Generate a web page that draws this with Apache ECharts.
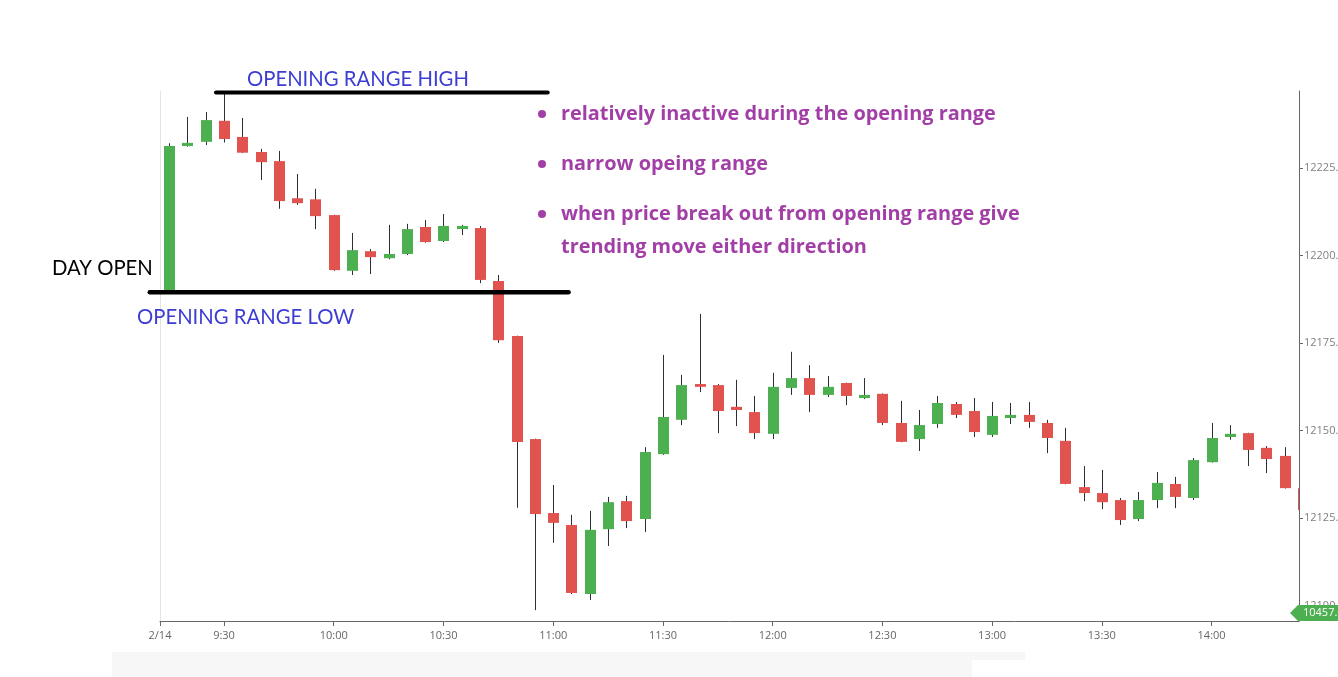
<!DOCTYPE html>
<html>
<head>
<meta charset="utf-8">
<script src="https://cdn.jsdelivr.net/npm/echarts@6/dist/echarts.min.js"></script>
<style>
html,body{margin:0;padding:0;background:#ffffff;}
#chart{width:1338px;height:677px;}
</style>
</head>
<body>
<div id="chart"></div>
<script>
// ---- data (5-minute candles, 2/14) ----
const times = ['9:15','9:20','9:25','9:30','9:35','9:40','9:45','9:50','9:55',
  '10:00','10:05','10:10','10:15','10:20','10:25','10:30','10:35','10:40','10:45','10:50','10:55',
  '11:00','11:05','11:10','11:15','11:20','11:25','11:30','11:35','11:40','11:45','11:50','11:55',
  '12:00','12:05','12:10','12:15','12:20','12:25','12:30','12:35','12:40','12:45','12:50','12:55',
  '13:00','13:05','13:10','13:15','13:20','13:25','13:30','13:35','13:40','13:45','13:50','13:55',
  '14:00','14:05','14:10','14:15','14:20','14:25'];
const opens = [12190.0,12231.2,12232.4,12238.4,12233.8,12229.5,12226.9,12216.3,12216.0,
  12211.5,12195.6,12201.2,12199.2,12200.4,12208.1,12204.1,12207.5,12207.8,12192.7,12177.0,12147.6,
  12126.5,12123.1,12103.4,12121.9,12129.9,12124.8,12143.3,12153.1,12163.3,12163.0,12156.8,12155.3,
  12149.1,12162.2,12165.0,12160.2,12163.6,12159.3,12160.5,12152.2,12147.6,12151.9,12157.6,12155.6,
  12148.8,12153.6,12154.5,12152.2,12147.1,12133.9,12132.2,12130.2,12124.8,12130.2,12134.8,12130.8,
  12141.0,12148.2,12149.3,12145.1,12142.8,12133.6];
const closes = [12231.2,12232.1,12238.6,12233.2,12229.3,12226.6,12215.5,12214.9,12211.2,
  12195.8,12201.5,12199.5,12200.4,12207.5,12203.8,12208.4,12208.4,12193.0,12175.8,12146.8,12126.2,
  12123.7,12103.7,12121.7,12129.6,12124.2,12143.9,12153.9,12163.0,12162.5,12155.6,12155.9,12149.3,
  12162.5,12165.0,12160.2,12162.5,12159.9,12160.2,12152.2,12146.8,12151.6,12157.9,12154.5,12149.6,
  12154.2,12154.5,12152.5,12147.9,12134.8,12132.2,12129.6,12124.5,12130.2,12135.1,12131.1,12141.6,
  12147.9,12149.1,12144.5,12141.9,12133.6,12127.4];
const lows = [12189.5,12231.0,12231.5,12232.2,12229.2,12221.5,12213.3,12214.4,12207.5,
  12195.6,12194.4,12194.7,12198.9,12200.1,12203.6,12203.8,12205.8,12192.1,12175.0,12128.0,12098.8,
  12118.0,12103.4,12101.7,12117.1,12122.2,12121.1,12143.1,12151.6,12161.0,12149.3,12151.3,12147.6,
  12147.6,12160.2,12155.3,12159.6,12157.3,12159.0,12151.6,12146.7,12144.2,12150.8,12153.6,12148.2,
  12148.2,12151.9,12150.8,12143.6,12134.7,12129.9,12127.6,12123.1,12124.2,12127.9,12127.9,12130.2,
  12140.9,12147.4,12139.9,12137.9,12133.5,12127.3];
const highs = [12232.0,12239.5,12240.9,12246.3,12239.2,12230.4,12229.8,12223.2,12219.0,
  12211.6,12206.4,12201.8,12208.7,12209.0,12210.1,12211.8,12208.7,12208.4,12194.4,12177.1,12147.7,
  12134.5,12126.0,12127.1,12131.1,12131.4,12145.3,12171.6,12165.9,12183.3,12163.3,12164.5,12159.9,
  12166.5,12172.5,12168.7,12165.6,12163.7,12165.0,12160.6,12158.5,12155.9,12159.9,12158.2,12159.3,
  12158.2,12157.9,12158.2,12153.1,12150.8,12139.9,12138.8,12130.8,12132.5,12138.2,12136.8,12142.2,
  12152.2,12151.6,12149.4,12145.6,12145.3,12133.7];

const dateLabel = '2/14';
const xTickLabels = ['9:30','10:00','10:30','11:00','11:30','12:00','12:30','13:00','13:30','14:00'];
const yTickValues = [12100,12125,12150,12175,12200,12225];
const lastPriceTag = '10457.6';

// annotations
const openingRangeHigh = 12246.5;
const openingRangeLow = 12189.5;
const titleHigh = 'OPENING RANGE HIGH';
const titleLow = 'OPENING RANGE LOW';
const titleOpen = 'DAY OPEN';
const notes = [
  'relatively inactive during the opening range',
  'narrow opeing range',
  'when price break out from opening range give',
  'trending move either direction'
];

// ---- helpers ----
function toMin(t){ const p = t.split(':'); return (+p[0])*60 + (+p[1]); }
function fmtMin(m){ const h = Math.floor(m/60); const mm = Math.round(m - h*60); return h + ':' + (mm<10?'0':'') + mm; }

const xMin = toMin('9:15') - 2.5;   // half a bar before first candle
const xMax = 863.9;
const yMin = 12095.7, yMax = 12246.9;

const candleData = times.map((t,i)=>[toMin(t), opens[i], closes[i], lows[i], highs[i]]);
const xTickValues = [xMin].concat(xTickLabels.map(toMin));

const UP = '#4CAF50', DOWN = '#E0534F', WICK = '#2B3034';
const BODY_W = 11;

function renderCandle(params, api){
  const x = api.value(0), o = api.value(1), c = api.value(2), l = api.value(3), h = api.value(4);
  const pO = api.coord([x, o]), pC = api.coord([x, c]), pL = api.coord([x, l]), pH = api.coord([x, h]);
  const cs = params.coordSys;
  const cx = Math.round(pO[0]);
  const children = [];
  if (cx + 0.5 <= cs.x + cs.width && cx >= cs.x) {
    children.push({type:'line', shape:{x1:cx+0.5, y1:pH[1], x2:cx+0.5, y2:pL[1]},
      style:{stroke:WICK, lineWidth:1}});
  }
  const top = Math.min(pO[1], pC[1]);
  const hgt = Math.max(Math.abs(pO[1]-pC[1]), 1.5);
  const rect = echarts.graphic.clipRectByRect(
    {x: cx + 0.5 - BODY_W/2, y: top, width: BODY_W, height: hgt},
    {x: cs.x, y: cs.y, width: cs.width, height: cs.height});
  if (rect) {
    children.push({type:'rect', shape:rect, style:{fill: c >= o ? UP : DOWN}});
  }
  return {type:'group', children:children};
}

const chart = echarts.init(document.getElementById('chart'), null, {renderer:'canvas'});
chart.setOption({
  animation:false,
  backgroundColor:'#ffffff',
  grid:{left:160, right:39, top:91, bottom:56, containLabel:false, outerBoundsMode:'none'},
  xAxis:{
    type:'value', min:xMin, max:xMax,
    axisLine:{show:true, lineStyle:{color:'#666', width:1}},
    axisTick:{show:true, customValues:xTickValues, length:5, lineStyle:{color:'#666'}},
    axisLabel:{show:true, customValues:xTickValues, color:'#666', fontSize:11, fontFamily:'Open Sans', margin:9,
      formatter:function(v){ return Math.abs(v - xMin) < 0.01 ? dateLabel : fmtMin(v); }},
    splitLine:{show:false}
  },
  yAxis:[{
    type:'value', position:'right', min:yMin, max:yMax, scale:true,
    axisLine:{show:true, lineStyle:{color:'#666', width:1}},
    axisTick:{show:true, customValues:yTickValues, length:4, lineStyle:{color:'#666'}},
    axisLabel:{show:true, customValues:yTickValues, color:'#808080', fontSize:11, fontFamily:'Open Sans', margin:5,
      formatter:function(v){ return v.toFixed(1); }},
    splitLine:{show:false}
  },{
    type:'value', position:'left', min:yMin, max:yMax, scale:true,
    axisLine:{show:true, lineStyle:{color:'#e4e4e4', width:1}},
    axisTick:{show:false}, axisLabel:{show:false}, splitLine:{show:false}
  }],
  series:[{
    type:'custom', name:'candles', data:candleData,
    encode:{x:0, y:[1,2,3,4]},
    renderItem:renderCandle,
    clip:true
  }]
});

// ---- annotations (positions from the chart's own scales) ----
function px(m, v){ return chart.convertToPixel({gridIndex:0}, [m, v]); }
const hA = px(567.8, openingRangeHigh), hB = px(658.5, openingRangeHigh);
const lA = px(549.7, openingRangeLow), lB = px(664.2, openingRangeLow);
const BLUE = '#3D3DD3', PURPLE = '#A23FA7';
const noteFont = 'bold 19.9px "Open Sans"';
const labelFont = '20.3px Lato';
function txt(x, y, s, fill, font){
  return {type:'text', x:x, y:y, style:{text:s, fill:fill, font:font, verticalAlign:'middle', align:'left'}, z:100};
}
const graphics = [
  {type:'rect', shape:{x:112, y:652, width:860, height:25}, style:{fill:'#f7f7f7'}, silent:true},
  {type:'rect', shape:{x:972, y:652, width:53, height:8}, style:{fill:'#f7f7f7'}, silent:true},
  {type:'line', shape:{x1:hA[0], y1:hA[1], x2:hB[0], y2:hB[1]}, style:{stroke:'#000', lineWidth:4, lineCap:'round'}, z:100},
  {type:'line', shape:{x1:lA[0], y1:lA[1], x2:lB[0], y2:lB[1]}, style:{stroke:'#000', lineWidth:4.5, lineCap:'round'}, z:100},
  txt(247, 79, titleHigh, BLUE, labelFont),
  txt(137, 317, titleLow, BLUE, labelFont),
  txt(52, 268, titleOpen, '#000', labelFont),
  {type:'circle', shape:{cx:542, cy:114, r:4}, style:{fill:PURPLE}, z:100},
  {type:'circle', shape:{cx:542, cy:164, r:4}, style:{fill:PURPLE}, z:100},
  {type:'circle', shape:{cx:542, cy:214, r:4}, style:{fill:PURPLE}, z:100},
  txt(561, 114, notes[0], PURPLE, noteFont),
  txt(561, 164, notes[1], PURPLE, noteFont),
  txt(561, 214, notes[2], PURPLE, noteFont),
  txt(561, 247, notes[3], PURPLE, noteFont),
  {type:'polygon', shape:{points:[[1290,613],[1298,605],[1338,605],[1338,621],[1298,621]]}, style:{fill:UP}, z:100},
  txt(1303, 613, lastPriceTag, '#fff', '11px "Open Sans"')
];
graphics[graphics.length-1].z = 101;
chart.setOption({graphic:graphics});
</script>
</body>
</html>
